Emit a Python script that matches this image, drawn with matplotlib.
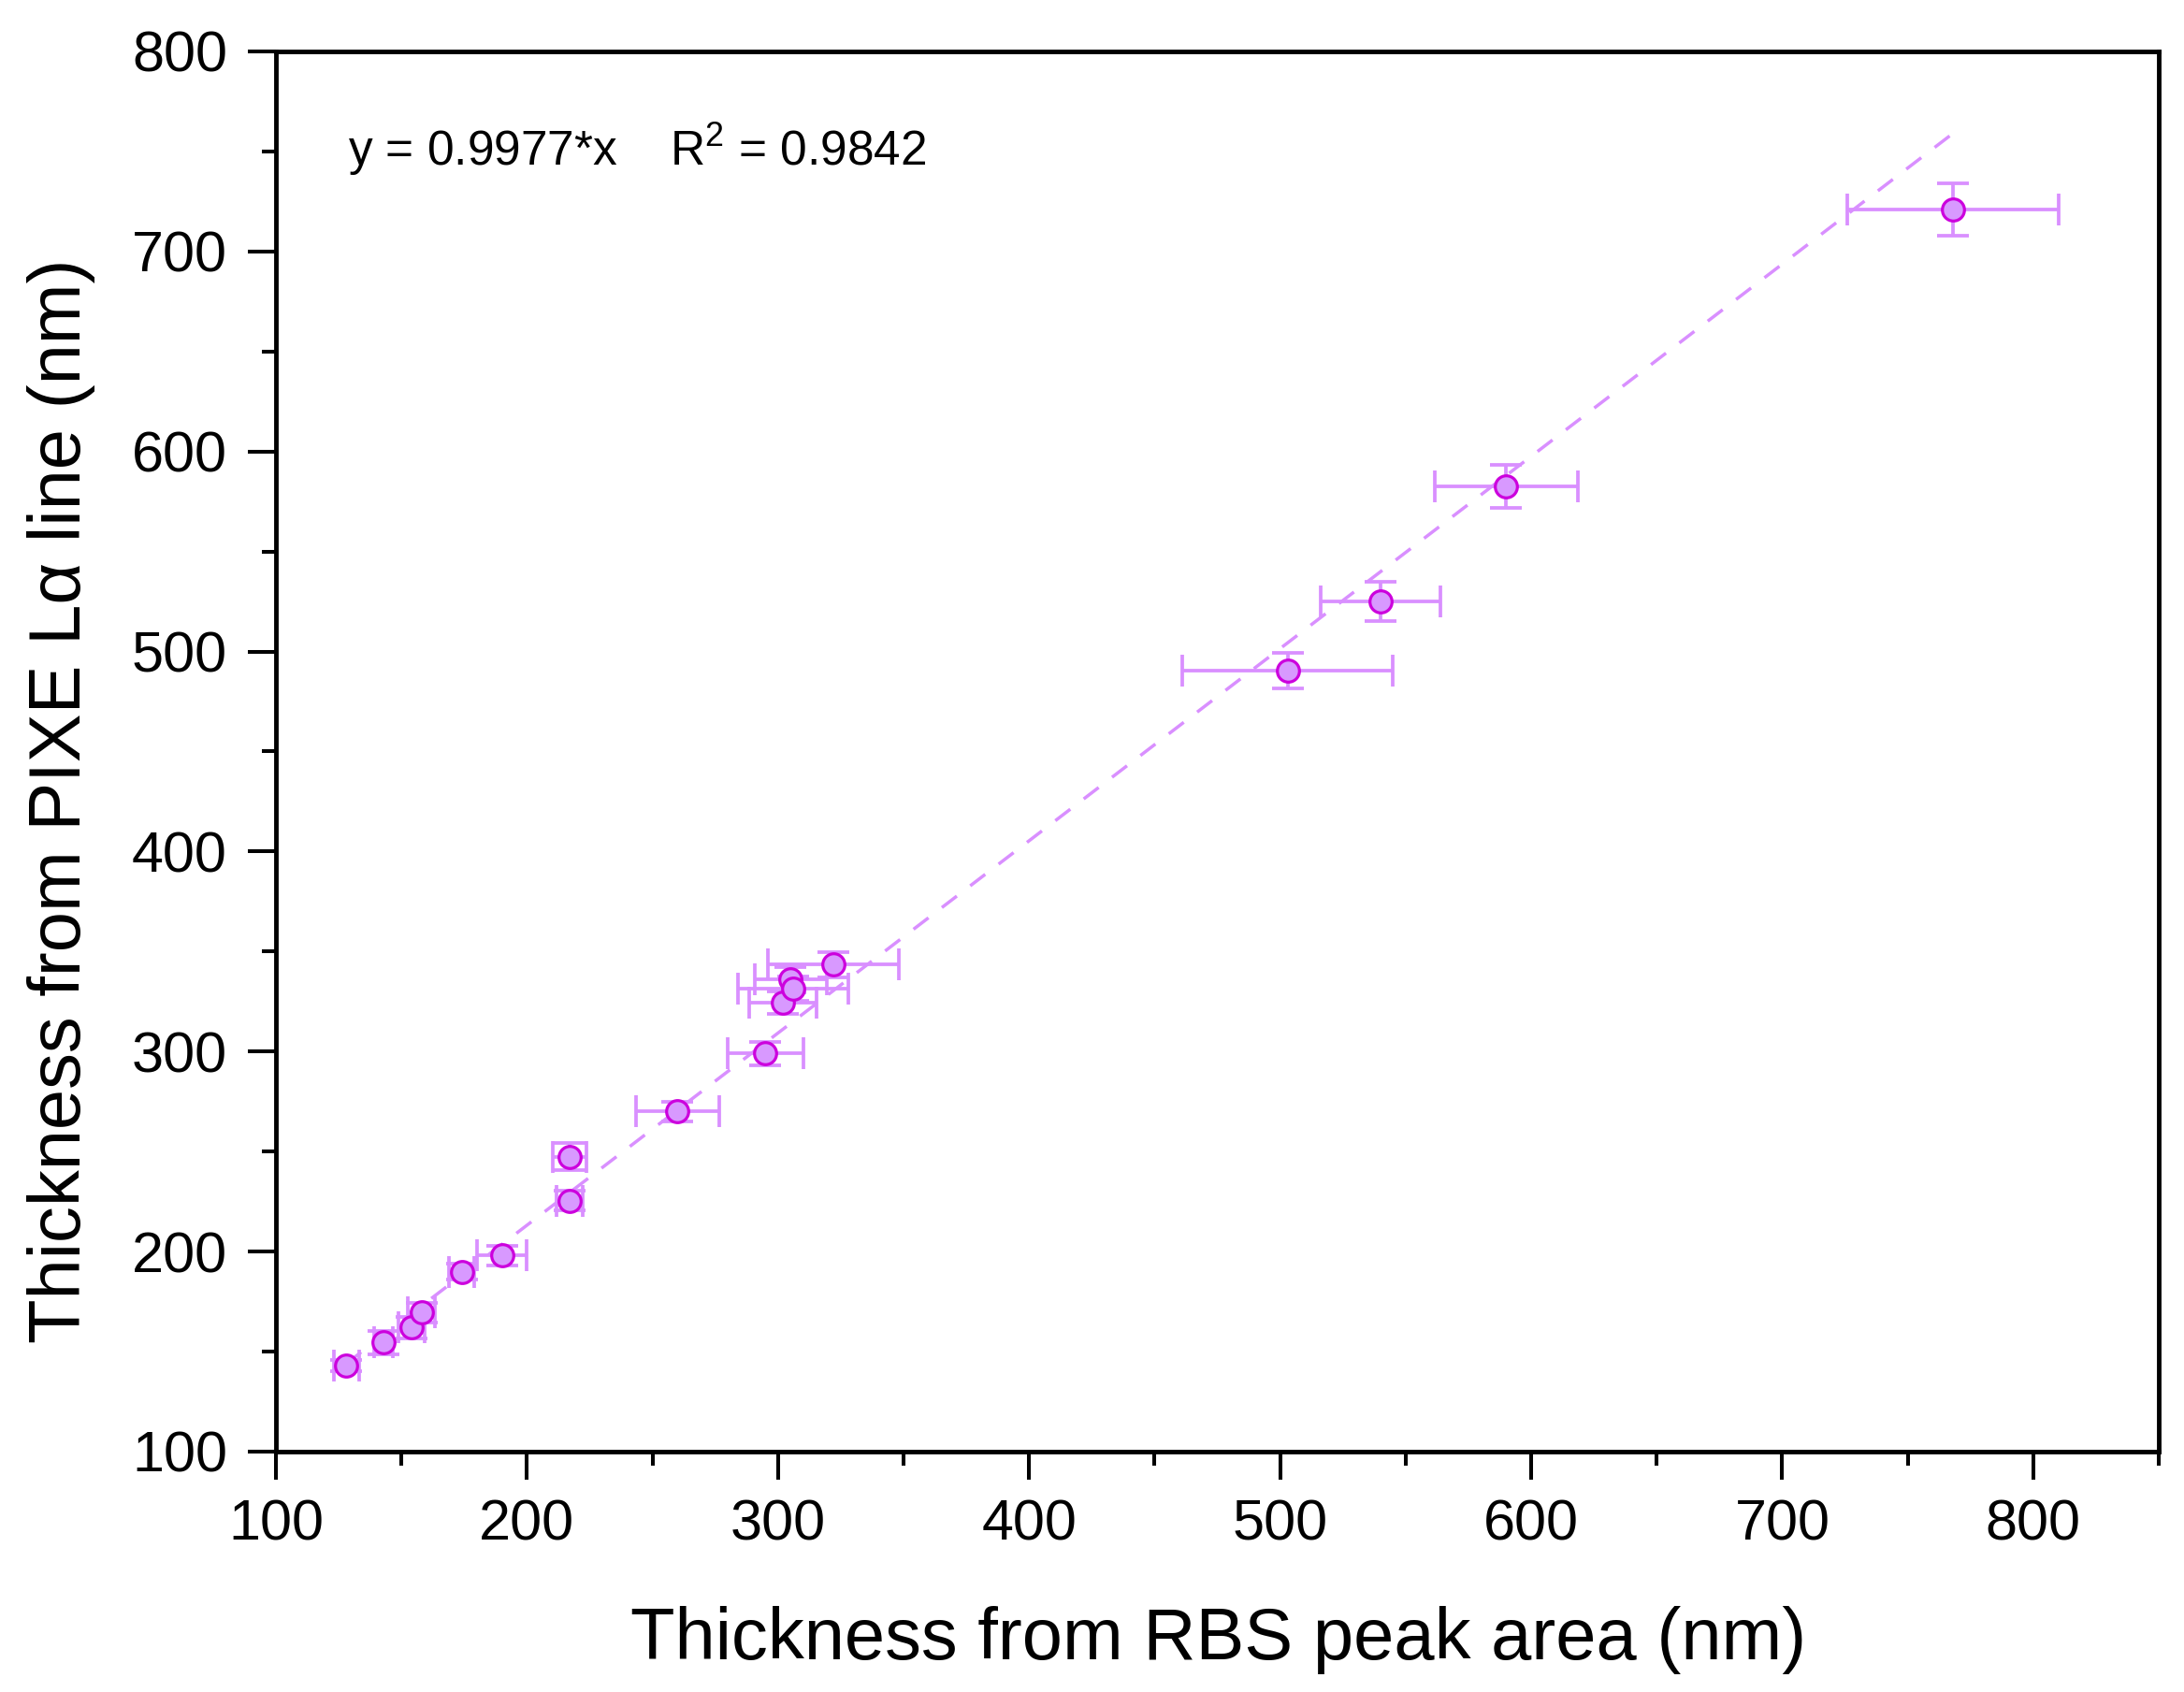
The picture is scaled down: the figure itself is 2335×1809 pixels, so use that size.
import matplotlib
matplotlib.use("Agg")
import matplotlib.pyplot as plt
from matplotlib.ticker import MultipleLocator

plt.rcParams['font.family'] = ['Liberation Sans', 'DejaVu Sans']
plt.rcParams['mathtext.fontset'] = 'custom'
plt.rcParams['mathtext.rm'] = 'Liberation Sans'
plt.rcParams['mathtext.it'] = 'Liberation Sans:italic'

# Data (nm)
rbs_thickness = [128, 143, 154, 158, 174, 190, 217, 217, 260, 295,
                 302, 305, 306, 322, 503, 540, 590, 768]
pixe_thickness = [143, 154.5, 162, 169.5, 190, 198, 225.5, 247.5, 270, 299,
                  324.5, 336, 331.5, 343.5, 490.5, 525, 582.5, 721]
rbs_err = [5, 3.7, 5.2, 5.3, 5.1, 10, 5.3, 6.6, 16.7, 15.1,
           13.5, 14.3, 22, 26, 42, 24, 28.5, 42]
pixe_err = [3, 5.8, 5.2, 5, 4, 5, 5, 6.6, 5, 5.7,
            5.5, 6.3, 6, 6.2, 8.9, 9.9, 10.9, 13.1]

fit_x = [128, 768]
fit_y = [144, 759]

annotation = "y = 0.9977*x    R$^{2}$ = 0.9842"
xlabel = "Thickness from RBS peak area (nm)"
ylabel = "Thickness from PIXE L\u03b1 line (nm)"

W, H = 2335, 1809
fig = plt.figure(figsize=(W / 100, H / 100), dpi=100)
ax = fig.add_axes([295 / W, 1 - 1552 / H, (2308 - 295) / W, (1552 - 55) / H])

err_color = '#D98FFF'
face_color = '#D899FF'
edge_color = '#CC00DD'

ax.plot(fit_x, fit_y, color=err_color, lw=2.5, linestyle=(0, (5.8, 5.2)), zorder=2)

ax.errorbar(rbs_thickness, pixe_thickness, xerr=rbs_err, yerr=pixe_err,
            fmt='none', ecolor=err_color, elinewidth=2.7, capsize=12,
            capthick=2.7, zorder=3)
ax.plot(rbs_thickness, pixe_thickness, 'o', ms=17, mfc=face_color,
        mec=edge_color, mew=2.3, zorder=4, linestyle='none')

ax.set_xlim(100, 850)
ax.set_ylim(100, 800)
ax.xaxis.set_major_locator(MultipleLocator(100))
ax.xaxis.set_minor_locator(MultipleLocator(50))
ax.yaxis.set_major_locator(MultipleLocator(100))
ax.yaxis.set_minor_locator(MultipleLocator(50))

for s in ax.spines.values():
    s.set_linewidth(3.5)
ax.tick_params(which='major', direction='out', length=21.5, width=2.9,
               labelsize=44, pad=15, top=False, right=False)
ax.tick_params(which='minor', direction='out', length=11, width=2.9,
               top=False, right=False)
ax.tick_params(axis='y', which='major', pad=16)

ax.set_xlabel(xlabel, fontsize=56)
ax.set_ylabel(ylabel, fontsize=56)
ax.xaxis.set_label_coords(0.5007, -0.110)
ax.yaxis.set_label_coords(-0.096, 0.465)

ax.text(0.0383, 0.9185, annotation, transform=ax.transAxes, fontsize=37,
        ha='left', va='baseline')

fig.savefig('out.png', dpi=100)
